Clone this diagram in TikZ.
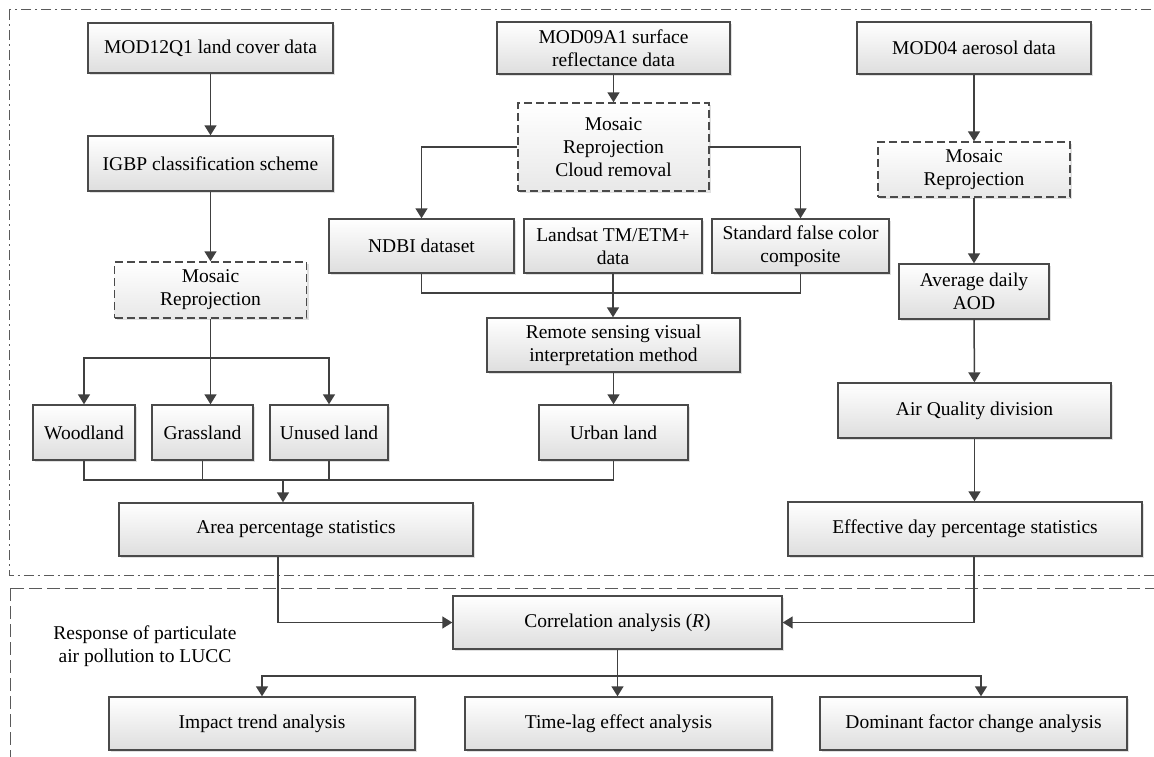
\documentclass[tikz,border=0pt]{standalone}
\usepackage{fontspec}
\setmainfont{Liberation Serif}
\newfontfamily\tnrfont{Liberation Serif}
\usetikzlibrary{arrows.meta,shadows}
\definecolor{boxc}{HTML}{4A4A4A}
\definecolor{linec}{HTML}{404040}
\definecolor{framec}{HTML}{5A5A5A}
\newcommand\mainfs{\tnrfont\fontsize{19.5}{23}\selectfont}
\tikzset{
  box/.style={draw=boxc, line width=1.4pt, top color=white, bottom color=black!13,
    drop shadow={shadow xshift=2pt, shadow yshift=-2pt, fill=black!40, opacity=0.3},
    inner sep=0pt, align=center, font=\mainfs},
  dbox/.style={box, dash pattern=on 8pt off 4pt, top color=white, bottom color=black!9},
  conn/.style={draw=linec, line width=1.5pt},
  arr/.style={conn, -{Triangle[width=12pt,length=10pt]}},
  frameA/.style={draw=framec, line width=1pt, dash pattern=on 10pt off 4pt on 2pt off 4pt},
  frameB/.style={draw=framec, line width=1pt, dash pattern=on 13pt off 5pt},
}
\begin{document}
\begin{tikzpicture}[x=1pt,y=-1pt]
\useasboundingbox (0,0) rectangle (1154,757);
\clip (0,0) rectangle (1154,757);
\fill[white] (0,0) rectangle (1154,757);

% frames
\draw[frameA] (9,10) rectangle (1175,575);
\draw[frameB] (10,588) rectangle (1175,780);

% left column
\node[box, minimum width=245pt, minimum height=50pt] (mod12) at (210.5,48) {MOD12Q1 land cover data};
\node[box, minimum width=245pt, minimum height=55pt] (igbp) at (210.5,163.5) {IGBP classification scheme};
\node[dbox, minimum width=192pt, minimum height=56pt] (mosL) at (210.5,290) {Mosaic\\Reprojection};
\node[box, minimum width=102pt, minimum height=55pt] (wood) at (84,432.5) {Woodland};
\node[box, minimum width=101pt, minimum height=55pt] (grass) at (202.5,432.5) {Grassland};
\node[box, minimum width=118pt, minimum height=55pt] (unused) at (329,432.5) {Unused land};
\node[box, minimum width=354pt, minimum height=53pt] (area) at (296,529.5) {Area percentage statistics};

% middle column
\node[box, minimum width=233pt, minimum height=52pt] (mod09) at (613.5,48) {MOD09A1 surface\\reflectance data};
\node[dbox, minimum width=191pt, minimum height=88pt] (mosM) at (613.5,147) {Mosaic\\Reprojection\\Cloud removal};
\node[box, minimum width=185pt, minimum height=54pt] (ndbi) at (421.5,246) {NDBI dataset};
\node[box, minimum width=178pt, minimum height=54pt] (landsat) at (613,246) {Landsat TM/ETM+\\data};
\node[box, minimum width=177pt, minimum height=54pt] (std) at (800.5,246) {Standard false color\\composite};
\node[box, minimum width=253pt, minimum height=54pt] (remote) at (613.5,345) {Remote sensing visual\\interpretation method};
\node[box, minimum width=149pt, minimum height=55pt] (urban) at (613.5,432.5) {Urban land};

% right column
\node[box, minimum width=234pt, minimum height=52pt] (mod04) at (974,48) {MOD04 aerosol data};
\node[dbox, minimum width=192pt, minimum height=55pt] (mosR) at (974,169.5) {Mosaic\\Reprojection};
\node[box, minimum width=150pt, minimum height=55pt] (aod) at (974,291.5) {Average daily\\AOD};
\node[box, minimum width=273pt, minimum height=55pt] (airq) at (974.5,410.5) {Air Quality division};
\node[box, minimum width=354pt, minimum height=54pt] (eff) at (965,529) {Effective day percentage statistics};

% bottom part
\node[box, minimum width=329pt, minimum height=53pt] (corr) at (617.5,622.5) {Correlation analysis (\textit{R})};
\node[align=center, font=\mainfs, inner sep=0pt] (resp) at (145,646) {Response of particulate\\air pollution to LUCC};
\node[box, minimum width=306pt, minimum height=53pt] (impact) at (262,723.5) {Impact trend analysis};
\node[box, minimum width=307pt, minimum height=53pt] (tlag) at (618.5,723.5) {Time-lag effect analysis};
\node[box, minimum width=307pt, minimum height=53pt] (dom) at (973.5,723.5) {Dominant factor change analysis};

% coordinates
\coordinate (splitL) at (210.5,358);
\coordinate (joinM) at (613,293);
\coordinate (joinL) at (283,480);
\coordinate (splitB) at (618,676);

% left connectors
\draw[arr] (mod12) -- (igbp);
\draw[arr] (igbp) -- (mosL);
\draw[conn] (mosL.south) -- (splitL);
\draw[arr] (splitL) -| (wood.north);
\draw[arr] (splitL) -| (unused.north);
\draw[arr] (splitL) -- (splitL |- grass.north);
\draw[conn] (wood.south) |- (joinL) -| (urban.south);
\draw[conn] (grass.south) -- (grass.south |- joinL);
\draw[conn] (unused.south) -- (unused.south |- joinL);
\draw[arr] (joinL) -- (joinL |- area.north);

% middle connectors
\draw[arr] (mod09) -- (mosM);
\draw[arr] (mosM.west) -| (ndbi.north);
\draw[arr] (mosM.east) -| (std.north);
\draw[conn] (ndbi.south) |- (joinM) -| (std.south);
\draw[arr] (landsat.south) -- (landsat.south |- remote.north);
\draw[arr] (remote) -- (urban);

% right connectors
\draw[arr] (mod04) -- (mosR);
\draw[arr] (mosR) -- (aod);
\draw[arr] (aod) -- (airq);
\draw[arr] (airq.south) -- (airq.south |- eff.north);

% bottom connectors
\draw[arr] ([xshift=-18pt]area.south) |- (corr.west);
\draw[arr] ([xshift=9pt]eff.south) |- (corr.east);
\draw[arr] (corr.south) -- (corr.south |- tlag.north);
\draw[arr] (splitB) -| (impact.north);
\draw[arr] (splitB) -| ([xshift=7.5pt]dom.north);
\end{tikzpicture}
\end{document}
